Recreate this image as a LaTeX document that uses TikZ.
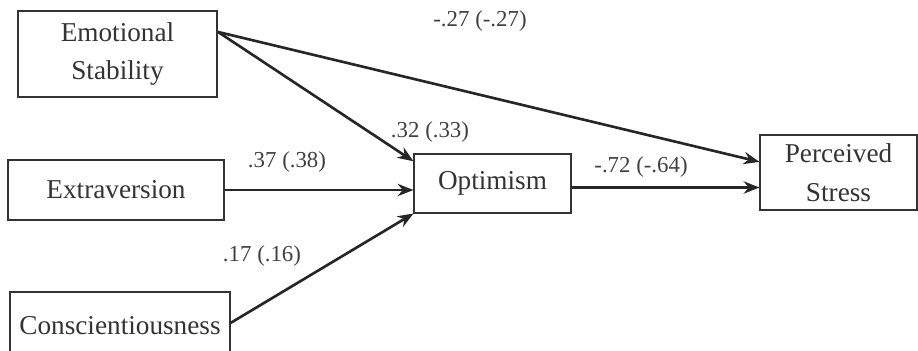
\documentclass[tikz,border=0pt]{standalone}
\usepackage{fontspec}
\setmainfont{Liberation Serif}
\usepackage{tikz}
\usetikzlibrary{arrows.meta, positioning, calc}

\begin{document}
\begin{tikzpicture}[x=0.02cm, y=-0.02cm,
    box/.style={draw=black!80, line width=0.6pt, inner sep=2pt, align=center,
      font=\fontsize{15.5}{19}\selectfont, text=black!80},
    coef/.style={font=\fontsize{13}{15}\selectfont, text=black!75, inner sep=1pt},
    path/.style={draw=black!85, line width=1.5pt, -{Stealth[length=9pt, width=7pt]}}]
  \clip (0,0) rectangle (918,351);
  \useasboundingbox (0,0) rectangle (918,351);

  \node[box, line width=1.2pt, minimum width=199*0.02cm, minimum height=86*0.02cm] (emo) at (117.5,54) {Emotional\\[3pt]Stability};
  \node[box, minimum width=216*0.02cm, minimum height=60*0.02cm] (extra) at (116,190) {Extraversion};
  \node[box, minimum width=220*0.02cm, minimum height=68*0.02cm] (consc) at (120,326) {Conscientiousness};
  \node[box, minimum width=157*0.02cm, minimum height=59*0.02cm] (opt) at (492.5,183.5) {Optimism};
  \node[box, minimum width=157*0.02cm, minimum height=75*0.02cm] (stress) at (838.5,172.5) {Perceived\\[3pt]Stress};

  \coordinate (emoOut) at ($(emo.north east)!0.25!(emo.south east)$);
  \coordinate (optInTop) at ($(opt.north west)!0.13!(opt.south west)$);
  \coordinate (optOut) at ($(opt.east)+(0,4)$);
  \coordinate (consOut) at ($(consc.east)+(0,-3)$);
  \coordinate (stressInTop) at ($(stress.north west)!0.36!(stress.south west)$);

  \draw[path] (emoOut) -- (stressInTop);
  \draw[path] (emoOut) -- (optInTop);
  \draw[path] (extra.east) -- (extra.east -| opt.west);
  \draw[path] (consOut) -- (opt.south west);
  \draw[path] (optOut) -- (optOut -| stress.west);

  % path coefficients
  \node[coef] (cEmoStress) at (480,21) {-.27 (-.27)};
  \node[coef] (cEmoOpt) at (430,132) {.32 (.33)};
  \node[coef] (cExtra) at (287,162) {.37 (.38)};
  \node[coef] (cConsc) at (262,256) {.17 (.16)};
  \node[coef] (cOpt) at (641,167) {-.72 (-.64)};
\end{tikzpicture}
\end{document}
